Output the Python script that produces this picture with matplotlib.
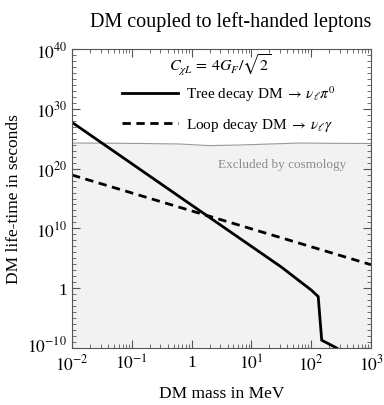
import numpy as np
import matplotlib
matplotlib.use('Agg')
import matplotlib.pyplot as plt
import matplotlib.transforms as mtransforms
from matplotlib.ticker import LogLocator, FixedLocator, NullFormatter

plt.rcParams['font.family'] = ['Liberation Serif', 'DejaVu Serif']
plt.rcParams['mathtext.fontset'] = 'stix'

# tree-level decay DM -> nu pi0
mass_tree = [0.01, 1.0, 10.0, 31.6, 100.0, 131.0, 150.0, 267.0]
life_tree = [5.5e27, 8e13, 1e7, 3.5e3, 0.5, 0.04, 2e-9, 1e-10]

# loop decay DM -> nu gamma
mass_loop = [0.01, 1000.0]
life_loop = [8.5e18, 8.5e3]

# cosmology bound (upper edge of grey region)
mass_cosmo = [0.01, 0.03, 0.14, 0.65, 2.0, 6.5, 20.0, 65.0, 200.0, 1000.0]
life_cosmo = [1.9e24, 1.8e24, 1.6e24, 1.3e24, 7e23, 9e23, 1.3e24, 1.9e24, 1.7e24, 1.6e24]

xticks = [1e-2, 1e-1, 1, 1e1, 1e2, 1e3]
xticklabels = [r'$10^{-2}$', r'$10^{-1}$', '1', r'$10^{1}$', r'$10^{2}$', r'$10^{3}$']
yticks = [1e-10, 1, 1e10, 1e20, 1e30, 1e40]
yticklabels = [r'$10^{-10}$', '1', r'$10^{10}$', r'$10^{20}$', r'$10^{30}$', r'$10^{40}$']

fig = plt.figure(figsize=(3.84, 4.06), dpi=100)
ax = fig.add_axes([0.1875, 0.1404, 0.7786, 0.7364])

ax.fill_between(mass_cosmo, 1e-12, life_cosmo, color='#f2f2f2', lw=0, zorder=0)
ax.plot(mass_cosmo, life_cosmo, color='#999999', lw=0.8, zorder=1)
ax.text(282 / 384, 1 - 165 / 406, 'Excluded by cosmology', transform=fig.transFigure,
        ha='center', va='center', fontsize=9.5, color='#8c8c8c')

ax.plot(mass_tree, life_tree, color='black', lw=2, solid_joinstyle='miter',
        label=r'Tree decay DM $\rightarrow\,\nu_\ell\pi^0$')
ax.plot(mass_loop, life_loop, color='black', lw=2, dashes=(3, 2),
        label=r'Loop decay DM $\rightarrow\,\nu_\ell\gamma$')

ax.set_xscale('log')
ax.set_yscale('log')
ax.set_xlim(1e-2, 1e3)
ax.set_ylim(1e-10, 1e40)

ax.set_xticks(xticks)
ax.set_xticklabels(xticklabels)
ax.set_yticks(yticks)
ax.set_yticklabels(yticklabels)
ax.xaxis.set_minor_locator(LogLocator(base=10, subs=np.arange(2, 10), numticks=20))
ax.yaxis.set_minor_locator(FixedLocator([10.0 ** k for k in range(-10, 41)]))
ax.xaxis.set_minor_formatter(NullFormatter())
ax.yaxis.set_minor_formatter(NullFormatter())

ax.tick_params(which='both', direction='in', top=True, right=True, colors='#555555',
               labelcolor='black', labelsize=12.5)
ax.tick_params(which='major', length=6, width=0.8)
ax.tick_params(which='minor', length=3, width=0.6)
ax.tick_params(axis='x', pad=4)
for s in ax.spines.values():
    s.set_color('#555555')
    s.set_linewidth(0.8)

# lift the lowest y label a little so it does not run into 10^-2
lbl = ax.get_yticklabels()[0]
lbl.set_transform(lbl.get_transform() + mtransforms.ScaledTranslation(0, 3 / 72, fig.dpi_scale_trans))

ax.set_xlabel('DM mass in MeV', fontsize=12.5, labelpad=8)
ax.set_ylabel('DM life-time in seconds', fontsize=12.5, labelpad=4)
fig.text(231 / 384, 1 - 22 / 406, 'DM coupled to left-handed leptons',
         ha='center', va='center', fontsize=14.5)

ax.text(220 / 384, 1 - 65 / 406, r'$C_{\chi L}\,=\,4G_F/\sqrt{2}$', transform=fig.transFigure,
        ha='center', va='center', fontsize=11.5)
ax.legend(loc='upper left', bbox_to_anchor=(0.12, 0.93), frameon=False,
          fontsize=11, handlelength=3.7, handletextpad=0.5, labelspacing=0.85)

fig.savefig('out.png', dpi=100)
